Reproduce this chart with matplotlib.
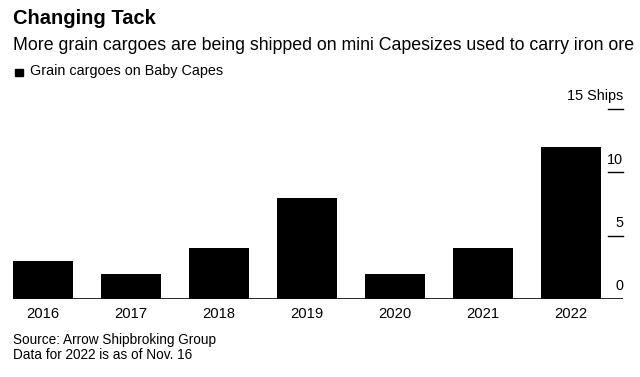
import matplotlib.pyplot as plt
import matplotlib.transforms as mtransforms
from matplotlib.patches import Rectangle

plt.rcParams['font.family'] = ['Liberation Sans', 'DejaVu Sans']

# data
years = ["2016", "2017", "2018", "2019", "2020", "2021", "2022"]
ships = [3, 2, 4, 8, 2, 4, 12]
yticks = [0, 5, 10, 15]
ytick_labels = ["0", "5", "10", "15 Ships"]

W, H = 640, 377
fig = plt.figure(figsize=(W / 100, H / 100), dpi=100)

# axes box in pixels: left 13, right 623, baseline 299, top tick 109
ax = fig.add_axes([13 / W, (H - 299) / H, (623 - 13) / W, (299 - 109) / H])

x = list(range(len(years)))
ax.bar(x, ships, width=0.68, color="black")
ax.set_xlim(-0.34, 6.59)
ax.set_ylim(0, 15)

for s in ax.spines.values():
    s.set_visible(False)
ax.axhline(0, color="black", lw=1.2, zorder=3)

ax.set_yticks([])
ax.set_xticks(x)
ax.set_xticklabels(years, fontsize=10.6)
ax.tick_params(axis="x", length=0, pad=6)

# right side ticks: short dashes with labels above them
trans = mtransforms.blended_transform_factory(ax.transAxes, ax.transData)
dash_left = (608 - 13) / (623 - 13)
for v, lab in zip(yticks, ytick_labels):
    if v > 0:
        ax.plot([dash_left, 1.0], [v, v], color="black", lw=1, transform=trans,
                clip_on=False)
    ax.text(1.0, v + 0.45, lab, transform=trans, ha="right", va="bottom",
            fontsize=10.4)

# header
fig.text(13 / W, 1 - 9 / H, "Changing Tack", fontsize=14.5, fontweight="bold",
         va="top", ha="left")
fig.text(13 / W, 1 - 37 / H,
         "More grain cargoes are being shipped on mini Capesizes used to carry iron ore",
         fontsize=12.8, va="top", ha="left")
fig.patches.append(Rectangle((15 / W, 1 - 76 / H), 7.5 / W, 7.5 / H,
                             transform=fig.transFigure, color="black"))
fig.text(30 / W, 1 - 64 / H, "Grain cargoes on Baby Capes", fontsize=10.4,
         va="top", ha="left")

# footer
fig.text(13 / W, 1 - 333 / H, "Source: Arrow Shipbroking Group", fontsize=9.8,
         va="top", ha="left")
fig.text(13 / W, 1 - 348 / H, "Data for 2022 is as of Nov. 16", fontsize=9.8,
         va="top", ha="left")

fig.savefig("out.png", dpi=100)
